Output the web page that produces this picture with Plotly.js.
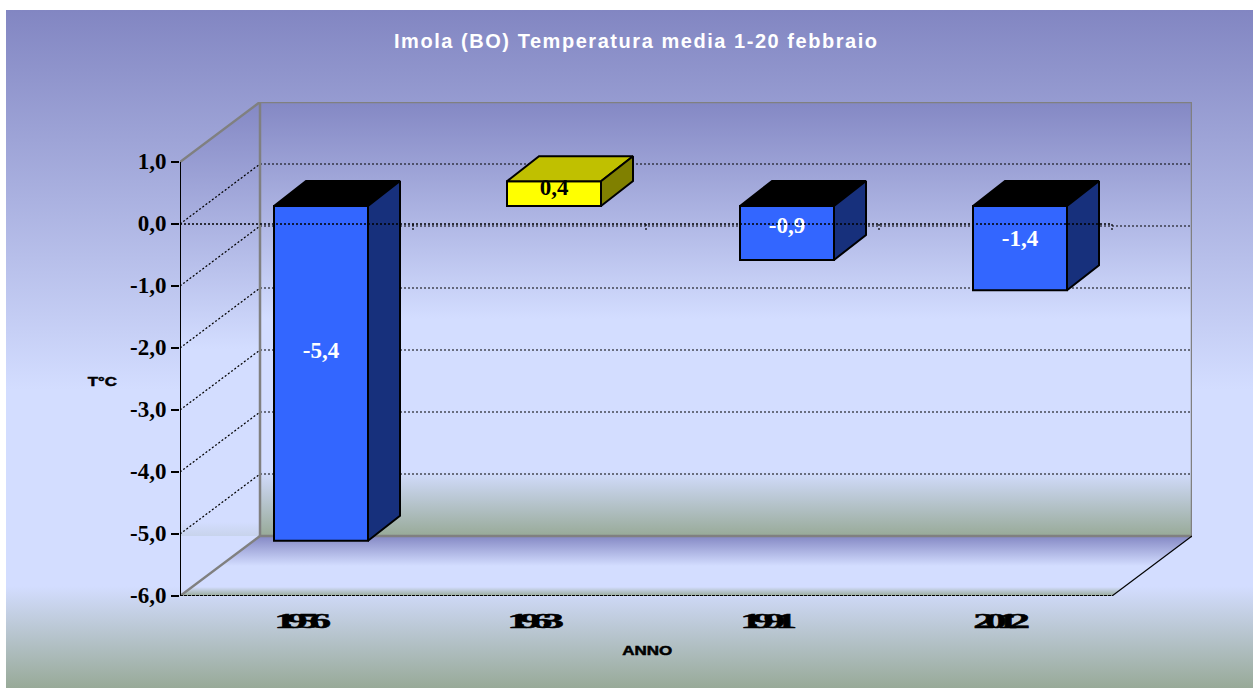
<!DOCTYPE html>
<html><head><meta charset="utf-8">
<script src="https://cdn.plot.ly/plotly-3.0.1.min.js"></script>
<style>
html,body{margin:0;padding:0;background:#fff;width:1257px;height:688px;overflow:hidden}
#bg{position:absolute;left:6px;top:10px;width:1247px;height:678px;
background:linear-gradient(to bottom,#8286c2 0%,#d3ddff 56%,#d3ddff 85%,#98aa98 100%)}
#chart{position:absolute;left:0;top:0;width:1257px;height:688px}
.heavy{stroke:#000;stroke-width:.5px}
</style></head><body><div id="bg"></div><div id="chart"></div>
<script>
const categories=['1956','1963','1991','2012'];
const values=[-5.4,0.4,-0.87,-1.36];
const yTicks=[1,0,-1,-2,-3,-4,-5,-6];
const titleText='Imola (BO) Temperatura media 1-20 febbraio';
const faceNeg='#3366ff', faceNegTop='#000000', faceNegSide='#17307c';
const facePos='#ffff00', facePosTop='#c0c000', facePosSide='#808000';

const W=1257,H=688,L=180,R=1192,T=102,B=596;
const pxX=233,pxY=62;           // px per category, px per degree on the front plane
const wallX=80/pxX,wallY=60/pxY;      // depth of the floor and the side wall
const barShiftX=24.5/pxX,barShiftY=18/pxY;   // front face of a bar inside that depth
const barDepthX=32/pxX,barDepthY=25/pxY;
const barW=94/pxX;
const x0=-0.5,x1=3.5,yMin=-6,yMax=1;
const comma=v=>v.toFixed(1).replace('.',',');
const wallScale=[[0,'#98aa98'],[0.15,'#d3ddff'],[0.5,'#d3ddff'],[1,'#8488c4']];

const traces=[];
const poly=(xs,ys,fill,extra)=>Object.assign({x:xs,y:ys,mode:'lines',fill:'toself',fillcolor:fill,
  line:{width:0},hoverinfo:'skip',showlegend:false,cliponaxis:false},extra||{});
const seg=(xs,ys,color,width,dash,axis)=>({x:xs,y:ys,mode:'lines',line:{color:color,width:width,dash:dash||'solid'},
  hoverinfo:'skip',showlegend:false,cliponaxis:false,xaxis:axis?'x2':'x',yaxis:axis?'y2':'y'});

// back wall
traces.push(poly([x0+wallX,x1+wallX,x1+wallX,x0+wallX,x0+wallX],[yMin+wallY,yMin+wallY,yMax+wallY,yMax+wallY,yMin+wallY],'#fff',
  {fillgradient:{type:'vertical',colorscale:wallScale}}));
// side wall
traces.push(poly([x0,x0+wallX,x0+wallX,x0,x0],[yMax,yMax+wallY,yMin+wallY,yMin+wallY,yMax],'#fff',
  {fillgradient:{type:'vertical',colorscale:wallScale,start:yMin,stop:yMax+wallY}}));
// floor
traces.push(poly([x0,x1,x1+wallX,x0+wallX,x0],[yMin,yMin,yMin+wallY,yMin+wallY,yMin],'#fff',
  {fillgradient:{type:'vertical',colorscale:wallScale}}));
// grid
yTicks.filter(v=>v<1&&v>-6).forEach(v=>{
  traces.push(seg([x0,x0+wallX,x1+wallX],[v,v+wallY,v+wallY],'#000',1.2,'2px,2px'));
});
// frame
traces.push(seg([x0,x0+wallX,x1+wallX,x1+wallX,x0+wallX,x0],[yMax,yMax+wallY,yMax+wallY,yMin+wallY,yMin+wallY,yMin],'#808080',2.5));
traces.push(seg([x0+wallX,x0+wallX],[yMax+wallY,yMin+wallY],'#808080',2.5));
traces.push(seg([x1,x1+wallX],[yMin,yMin+wallY],'#000',1.2));

// bars on the overlay
const bx=categories.map((c,i)=>i+barShiftX);
traces.push({type:'bar',x:bx,y:values,base:values.map(()=>barShiftY),width:barW,name:'Temperatura media',
  marker:{color:values.map(v=>v<0?faceNeg:facePos),line:{color:'#000',width:2}},
  text:categories,textposition:'none',hoverinfo:'y',showlegend:false,xaxis:'x2',yaxis:'y2',cliponaxis:false});
values.forEach((v,i)=>{
  const l=bx[i]-barW/2,r=bx[i]+barW/2,top=Math.max(v,0)+barShiftY,bot=Math.min(v,0)+barShiftY;
  const ln={color:'#000',width:2};
  traces.push(poly([l,r,r+barDepthX,l+barDepthX,l],[top,top,top+barDepthY,top+barDepthY,top],v<0?faceNegTop:facePosTop,{line:ln,xaxis:'x2',yaxis:'y2'}));
  traces.push(poly([r,r+barDepthX,r+barDepthX,r,r],[top,top+barDepthY,bot+barDepthY,bot,top],v<0?faceNegSide:facePosSide,{line:ln,xaxis:'x2',yaxis:'y2'}));
});
// value labels
traces.push({x:bx,y:values.map(v=>barShiftY+v/2+0.05+0.053*Math.abs(v)),mode:'text',text:values.map(comma),
  textposition:'middle center',textfont:{family:'"Liberation Serif",serif',size:23,weight:700,color:values.map(v=>v<0?'#fff':'#000')},
  hoverinfo:'skip',showlegend:false,xaxis:'x2',yaxis:'y2',cliponaxis:false});
// front axes
traces.push(seg([x0,x1],[0,0],'#000',1.5,'2px,2px',true));
traces.push(seg([x0,x1],[yMin,yMin],'#000',2,'3px,1px',true));
traces.push(seg([x0,x0],[yMin,yMax],'#000',2,'solid',true));
categories.forEach((c,i)=>{
  traces.push(seg([i+x0+1,i+x0+1],[0,-6/pxY],'#000',1.2,'2px,2px',true));
});
categories.concat(['']).forEach((c,i)=>{
  traces.push(seg([i+x0,i+x0],[yMin,yMin-8/pxY],'#000',1.2,'2px,2px',true));
});

const xr=[x0,x1+wallX],yr=[yMin,yMax+wallY];
const layout={width:W,height:H,margin:{l:L,r:W-R,t:T,b:H-B,pad:0},
 paper_bgcolor:'rgba(0,0,0,0)',plot_bgcolor:'rgba(0,0,0,0)',showlegend:false,barmode:'overlay',
 title:{text:titleText,x:635.5/W,xanchor:'center',y:1-41/H,yanchor:'middle',xref:'container',yref:'container',
   font:{family:'"Liberation Sans",sans-serif',size:20,weight:700,color:'#fff'}},
 xaxis:{range:xr,showgrid:false,zeroline:false,showline:false,ticks:'',tickmode:'array',
   tickvals:categories.map((c,i)=>i+0.005),ticktext:categories,ticklabelstandoff:9,
   tickfont:{family:'"Liberation Serif",serif',size:22,weight:700,color:'#000'}},
 yaxis:{range:yr,showgrid:false,zeroline:false,showline:false,ticks:'outside',ticklen:8,tickwidth:2,tickcolor:'#000',
   tickmode:'array',tickvals:yTicks,ticktext:yTicks.map(comma),ticklabelstandoff:0,
   tickfont:{family:'"Liberation Serif",serif',size:23,weight:700,color:'#000'}},
 xaxis2:{range:xr,overlaying:'x',visible:false},
 yaxis2:{range:yr,overlaying:'y',visible:false},
 annotations:[
  {text:'T°C',xref:'paper',yref:'paper',x:(102.5-L)/(R-L),y:(B-381)/(B-T),showarrow:false,xanchor:'center',yanchor:'middle',
   font:{family:'"Liberation Sans",sans-serif',size:13,weight:700,color:'#000'}},
  {text:'ANNO',xref:'paper',yref:'paper',x:(647-L)/(R-L),y:(B-650)/(B-T),showarrow:false,xanchor:'center',yanchor:'middle',
   font:{family:'"Liberation Sans",sans-serif',size:13,weight:700,color:'#000'}}
 ]};
function stretch(el,len,adj){el.setAttribute('textLength',len);el.setAttribute('lengthAdjust',adj);}
Plotly.newPlot('chart',traces,layout,{displayModeBar:false,responsive:false}).then(gd=>{
  const t=gd.querySelector('.gtitle'); if(t) stretch(t,483,'spacing');
  gd.querySelectorAll('.xtick text').forEach(e=>{e.style.letterSpacing='-5px';stretch(e,47,'spacingAndGlyphs');e.classList.add('heavy');});
  gd.querySelectorAll('.ytick text').forEach(e=>{e.setAttribute('dy','-1');});
  gd.querySelectorAll('.annotation-text').forEach(e=>{
    stretch(e,e.textContent==='ANNO'?50:29,'spacingAndGlyphs');e.classList.add('heavy');});
});
</script></body></html>
